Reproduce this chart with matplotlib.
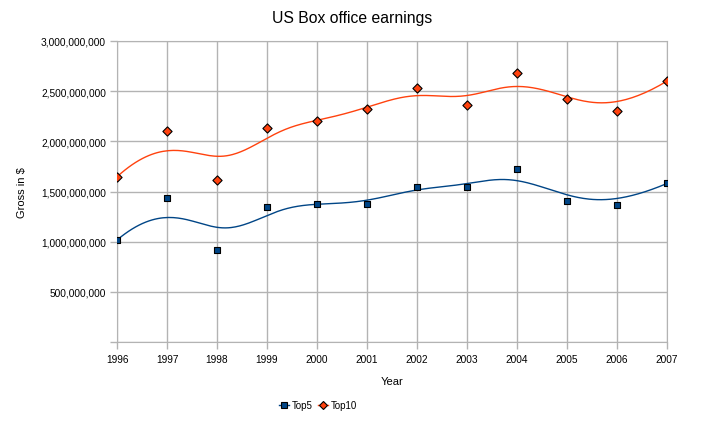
import numpy as np
import matplotlib.pyplot as plt
from matplotlib.ticker import FuncFormatter

years = [1996, 1997, 1998, 1999, 2000, 2001, 2002, 2003, 2004, 2005, 2006, 2007]
top5 = [1.017e9, 1.435e9, 0.92e9, 1.35e9, 1.38e9, 1.38e9, 1.55e9, 1.545e9, 1.72e9, 1.41e9, 1.37e9, 1.58e9]
top10 = [1.647e9, 2.10e9, 1.615e9, 2.13e9, 2.20e9, 2.325e9, 2.53e9, 2.36e9, 2.68e9, 2.42e9, 2.30e9, 2.60e9]


def bspline(xs, ys, degree=4, n=400):
    # clamped uniform B-spline with the data points as control points
    pts = np.column_stack([xs, ys]).astype(float)
    m = len(pts)
    knots = np.concatenate([np.zeros(degree), np.linspace(0, 1, m - degree + 1), np.ones(degree)])
    ts = np.linspace(0, 1, n)
    out = []
    for t in ts:
        k = np.searchsorted(knots, t, side='right') - 1
        k = min(k, m - 1)
        d = [pts[j + k - degree].copy() for j in range(degree + 1)]
        for r in range(1, degree + 1):
            for j in range(degree, r - 1, -1):
                i = j + k - degree
                denom = knots[i + degree + 1 - r] - knots[i]
                a = 0.0 if denom == 0 else (t - knots[i]) / denom
                d[j] = (1 - a) * d[j - 1] + a * d[j]
        out.append(d[degree])
    out = np.array(out)
    return out[:, 0], out[:, 1]


plt.rcParams['font.family'] = ['Liberation Sans', 'DejaVu Sans']

fig = plt.figure(figsize=(7.05, 4.31), dpi=100)
ax = fig.add_axes([0.166, 0.204, 0.780, 0.6986])

blue = '#004586'
orange = '#ff420e'

bx, by = bspline(years, top5)
ox, oy = bspline(years, top10)
ax.plot(bx, by, color=blue, lw=1, zorder=3)
ax.plot(ox, oy, color=orange, lw=1, zorder=3)
ax.scatter(years, top5, marker='s', s=18, color=blue, edgecolor='black', linewidth=0.8, zorder=4)
ax.scatter(years, top10, marker='D', s=22, color=orange, edgecolor='black', linewidth=0.8, zorder=4)

# legend proxies
ax.plot([], [], color=blue, lw=1, marker='s', ms=5, mfc=blue, mec='black', mew=0.8, label='Top5')
ax.plot([], [], color=orange, lw=1, marker='D', ms=4, mfc=orange, mec='black', mew=0.8, label='Top10')

ax.set_xlim(1996, 2007)
ax.set_ylim(0, 3e9)
ax.set_xticks(years)
ax.set_yticks(np.arange(0, 3.01e9, 5e8))
ax.yaxis.set_major_formatter(FuncFormatter(lambda v, p: '' if v == 0 else f'{v:,.0f}'))
ax.grid(True, color='#b3b3b3', lw=1)
ax.set_axisbelow(True)
for s in ax.spines.values():
    s.set_color('#b3b3b3')
ax.tick_params(colors='#b3b3b3', labelcolor='black', labelsize=7.3, length=5, width=1, direction='out')
ax.tick_params(axis='y', pad=3)

fig.suptitle('US Box office earnings', x=0.5, y=0.975, fontsize=11.3)
ax.set_xlabel('Year', fontsize=8, labelpad=9)
ax.set_ylabel('Gross in $', fontsize=8, labelpad=10)

fig.legend(loc='center', bbox_to_anchor=(0.451, 0.058), ncol=2, frameon=False, fontsize=7,
           handlelength=1.0, handletextpad=0.3, columnspacing=0.6)

fig.savefig('out.png', dpi=100)
